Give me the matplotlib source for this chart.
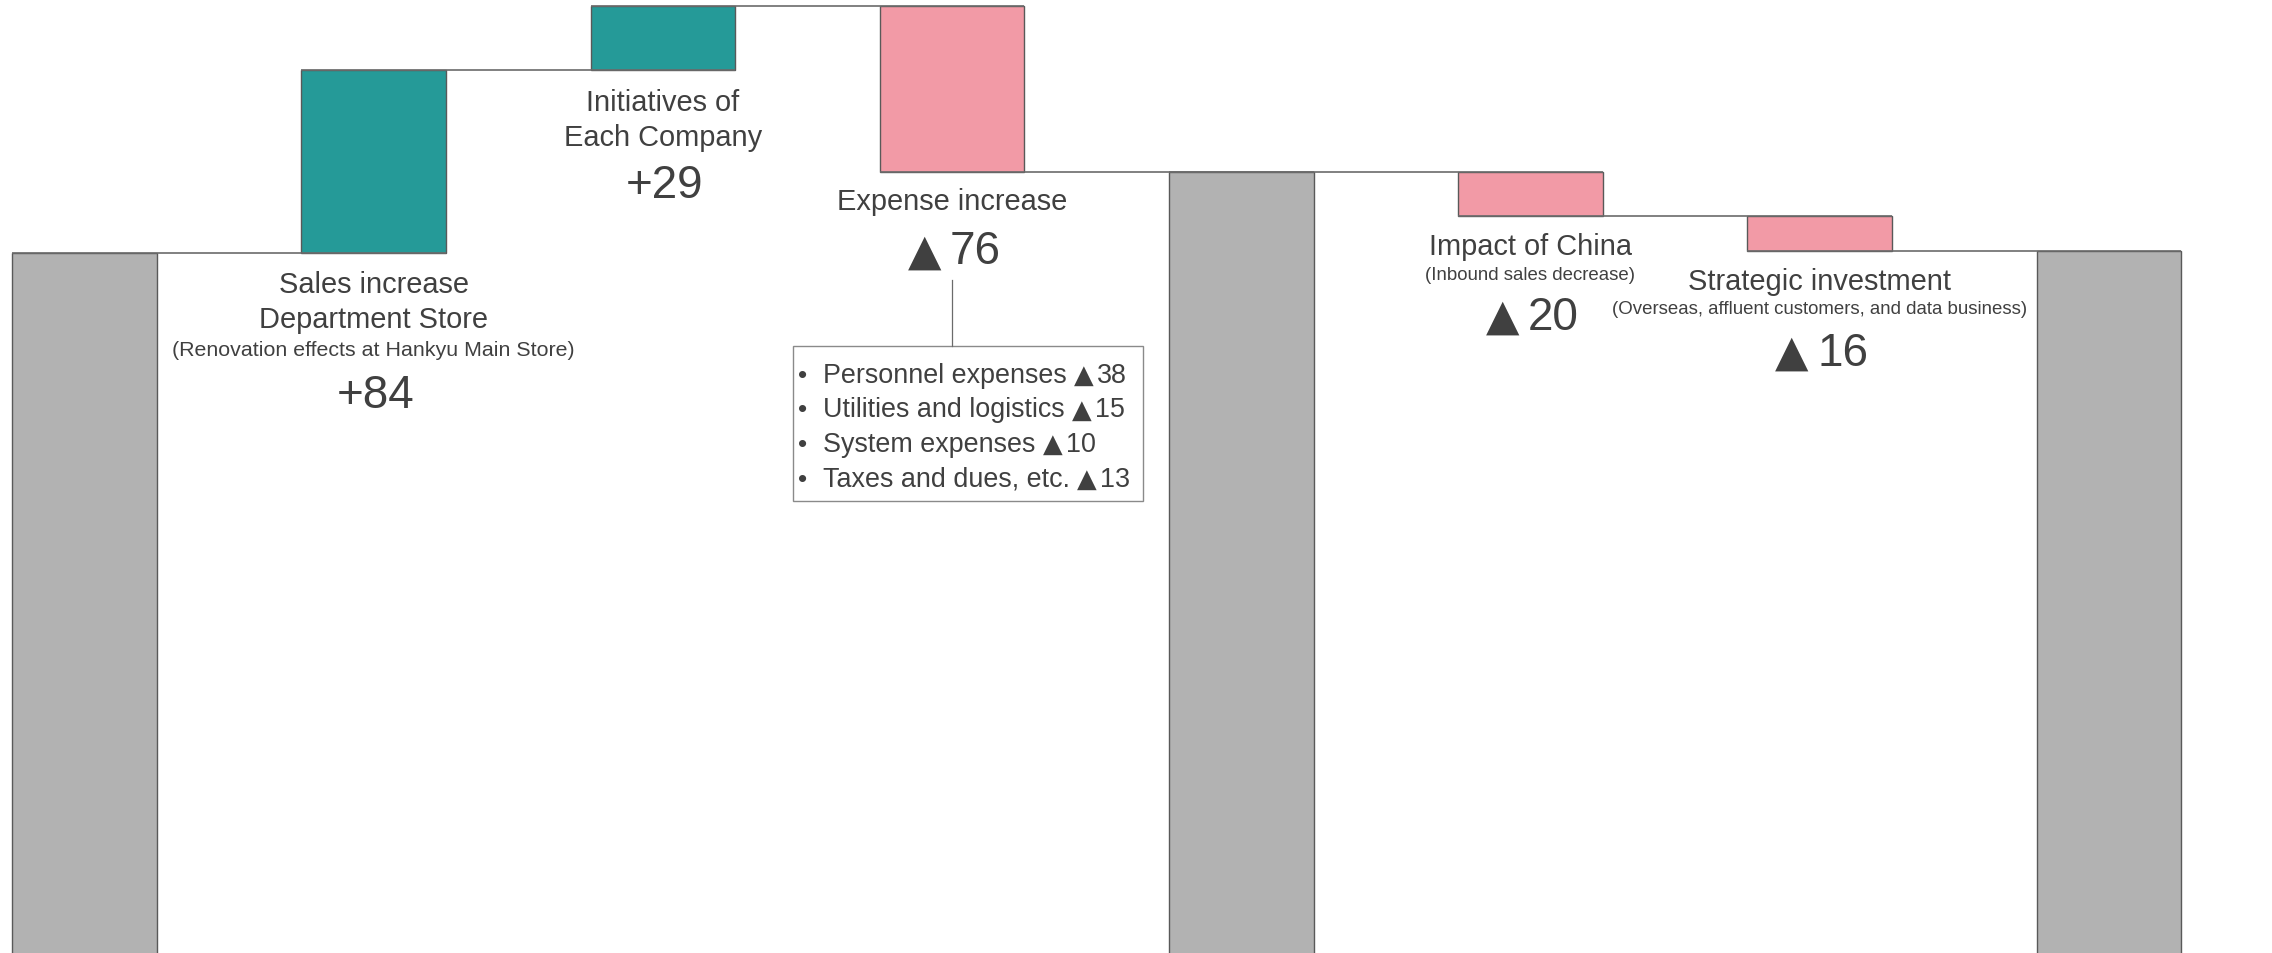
import numpy as np
import matplotlib
matplotlib.use('Agg')
import matplotlib.pyplot as plt
import matplotlib.transforms as mtransforms
from matplotlib.patches import Rectangle

plt.rcParams['font.family'] = ['Liberation Sans', 'DejaVu Sans']

# --- data (unit: 100 million yen) ---
start_value = 350          # base total, bars run off the bottom of the picture
step_kinds = ['total', 'delta', 'delta', 'delta', 'total', 'delta', 'delta', 'total']
step_deltas = [0, 84, 29, -76, 0, -20, -16, 0]

label_titles = {1: ['Sales increase', 'Department Store'], 2: ['Initiatives of', 'Each Company'],
                3: ['Expense increase'], 5: ['Impact of China'], 6: ['Strategic investment']}
label_notes = {1: '(Renovation effects at Hankyu Main Store)', 5: '(Inbound sales decrease)',
               6: '(Overseas, affluent customers, and data business)'}
label_values = {1: '+84', 2: '+29', 3: '▲76', 5: '▲20', 6: '▲16'}

expense_items = ['Personnel expenses ▲38', 'Utilities and logistics ▲15',
                 'System expenses ▲10', 'Taxes and dues, etc. ▲13']

TEAL = '#259a98'
PINK = '#f29aa6'
GRAY = '#b2b2b2'
TXT = '#404040'
EDGE = '#595959'
DPI = 100


def waterfall(start, kinds, deltas):
    """Return bottoms, heights, colors and running totals for each step."""
    run = start
    bottoms, heights, colors, levels = [], [], [], []
    for k, d in zip(kinds, deltas):
        if k == 'total':
            bottoms.append(0)
            heights.append(run)
            colors.append(GRAY)
        else:
            bottoms.append(min(run, run + d))
            heights.append(abs(d))
            colors.append(TEAL if d > 0 else PINK)
            run += d
        levels.append(run)
    return bottoms, heights, colors, levels


def px_at(ax, x, y):
    """Transform for pixel offsets measured from a data point."""
    x0, y0 = ax.transData.transform((x, y))
    return mtransforms.Affine2D().translate(x0, y0)


def rich_text(ax, renderer, tr, x, y, s, size, ha='center', tri_gap=0.18):
    """Text on one baseline; the triangle is drawn in DejaVu Sans (bigger glyph)."""
    em = size * DPI / 72
    head, sep, tail = s.partition('▲')
    pieces = []
    if head.strip():
        pieces.append((head.rstrip(), 'Liberation Sans', size, 0))
    if sep:
        pieces.append(('▲', 'DejaVu Sans', size * 0.95, 0.26 * em if head.strip() else 0))
    if tail:
        pieces.append((tail, 'Liberation Sans', size, tri_gap * em if sep else 0))
    arts, widths = [], []
    for txt, fam, fs, _ in pieces:
        t = ax.text(0, y, txt, transform=tr, family=fam, fontsize=fs,
                    ha='left', va='baseline', color=TXT)
        arts.append(t)
        widths.append(t.get_window_extent(renderer).width)
    gaps = [p[3] for p in pieces]
    total = sum(widths) + sum(gaps)
    x0 = x - total / 2 if ha == 'center' else x
    for t, wd, g in zip(arts, widths, gaps):
        x0 += g
        t.set_x(x0)
        x0 += wd


bottoms, heights, colors, levels = waterfall(start_value, step_kinds, step_deltas)
xs = np.arange(len(step_kinds))
w = 0.5

fig = plt.figure(figsize=(22.72, 9.54), dpi=DPI)
ax = fig.add_axes([0, 0, 1, 1])
ax.set_xlim(-0.2918, 7.564)
ax.set_ylim(start_value - 320.8, start_value + 116.4)
ax.axis('off')
renderer = fig.canvas.get_renderer()

ax.bar(xs, heights, bottom=bottoms, width=w, color=colors, edgecolor=EDGE, linewidth=1.0, zorder=2)

# connector lines between consecutive bars
for i in range(len(xs) - 1):
    ax.plot([xs[i] - w / 2, xs[i + 1] + w / 2], [levels[i], levels[i]],
            color='#6b6b6b', lw=1.2, zorder=3, solid_capstyle='butt')

# labels under each change bar (offsets in pixels from the bar's lower end)
title_off = {1: [39, 74], 2: [40, 75], 3: [37], 5: [38], 6: [38]}
note_off = {1: 102, 5: 63, 6: 62}
note_size = {1: 15.4, 5: 13.4, 6: 13.4}
value_off = {1: 154, 2: 127, 3: 91, 5: 113, 6: 114}

for i, lines in label_titles.items():
    tr = px_at(ax, xs[i], bottoms[i])
    for s, off in zip(lines, title_off[i]):
        ax.text(0, -off, s, transform=tr, ha='center', va='baseline', fontsize=20.9, color=TXT)
    if i in label_notes:
        ax.text(0, -note_off[i], label_notes[i], transform=tr, ha='center', va='baseline',
                fontsize=note_size[i], color=TXT)
    rich_text(ax, renderer, tr, 2, -value_off[i], label_values[i], 33)

# breakdown box for expense increase
tr = px_at(ax, xs[3], bottoms[3])
ax.plot([0, 0], [-108, -174], transform=tr, color='#6b6b6b', lw=0.9)
ax.add_patch(Rectangle((-159.3, -328.4), 350.6, 154.4, transform=tr, fill=False,
                       edgecolor='#8a8a8a', lw=1.0))
for k, s in enumerate(expense_items):
    y = -(209.4 + 34.7 * k)
    ax.text(-149, y, '•', transform=tr, ha='center', va='baseline', fontsize=19, color=TXT)
    rich_text(ax, renderer, tr, -128.7, y, s, 19.4, ha='left', tri_gap=0.12)

fig.savefig('out.png', dpi=DPI)
